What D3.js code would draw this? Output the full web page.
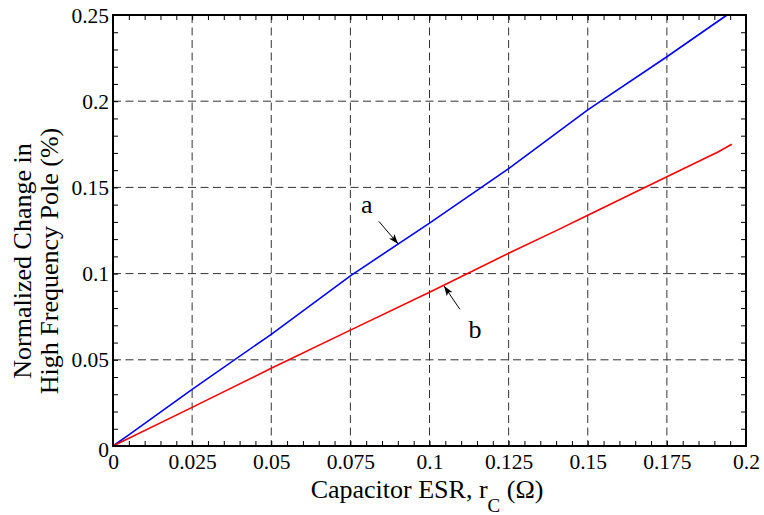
<!DOCTYPE html>
<html>
<head>
<meta charset="utf-8">
<script src="https://cdn.jsdelivr.net/npm/d3@7"></script>
<style>
  html, body { margin: 0; padding: 0; background: #fff; }
  svg { display: block; }
  text { font-family: "Liberation Serif", "Times New Roman", serif; fill: #000; }
</style>
</head>
<body>
<svg id="chart" width="764" height="515"></svg>
<script>
// ---- data ----
const xTicks = [0, 0.025, 0.05, 0.075, 0.1, 0.125, 0.15, 0.175, 0.2];
const xTickLabels = ["0", "0.025", "0.05", "0.075", "0.1", "0.125", "0.15", "0.175", "0.2"];
const yTicks = [0, 0.05, 0.1, 0.15, 0.2, 0.25];
const yTickLabels = ["0", "0.05", "0.1", "0.15", "0.2", "0.25"];

const seriesA_x = [0, 0.005, 0.025, 0.05, 0.075, 0.1, 0.125, 0.15, 0.175, 0.194];
const seriesA_y = [0, 0.0065, 0.0329, 0.0648, 0.0987, 0.1293, 0.1609, 0.1950, 0.2258, 0.25];
const seriesB_x = [0, 0.025, 0.05, 0.075, 0.1, 0.125, 0.1407, 0.15, 0.175, 0.1913, 0.1955];
const seriesB_y = [0, 0.0224, 0.0451, 0.0672, 0.0892, 0.1118, 0.1255, 0.1338, 0.1562, 0.1707, 0.175];

const labelNames = ["a", "b"];
const labelPos = [[0.0802, 0.1351], [0.1144, 0.0626]];
const arrowTail = [[0.0840, 0.1303], [0.1096, 0.0793]];
const arrowTip  = [[0.0901, 0.1172], [0.1046, 0.0928]];

const xTitle = "Capacitor ESR, r";
const xTitleSub = "C";
const xTitleEnd = " (\u03A9)";
const yTitle1 = "Normalized Change in";
const yTitle2 = "High Frequency Pole (%)";

// ---- layout ----
const svg = d3.select("#chart");
const L = 113, R = 746, T = 15, B = 446;
const x = d3.scaleLinear().domain([0, 0.2]).range([L, R]);
const y = d3.scaleLinear().domain([0, 0.25]).range([B, T]);

// grid
const grid = svg.append("g");
grid.selectAll("line.vg").data(xTicks.slice(1, -1)).enter().append("line")
  .attr("x1", d => x(d)).attr("x2", d => x(d)).attr("y1", T).attr("y2", B)
  .attr("stroke", "#333").attr("stroke-width", 1).attr("stroke-dasharray", "8,4.5");
grid.selectAll("line.hg").data(yTicks.slice(1, -1)).enter().append("line")
  .attr("y1", d => y(d)).attr("y2", d => y(d)).attr("x1", L).attr("x2", R)
  .attr("stroke", "#333").attr("stroke-width", 1).attr("stroke-dasharray", "8,4.5");

// axes with inward ticks (minor)
const xMinor = d3.range(0, 41).map(i => i * 0.005);
const yMinor = d3.range(0, 26).map(i => i * 0.01);
function tickAxis(axisFn, scale, vals, size, transform) {
  const g = svg.append("g").attr("transform", transform)
    .call(axisFn(scale).tickValues(vals).tickSize(size).tickFormat(""));
  g.select(".domain").remove();
  g.selectAll("line").attr("stroke", "#000").attr("stroke-width", 1);
  return g;
}
tickAxis(d3.axisTop, x, xMinor, 5, `translate(0,${B})`);
tickAxis(d3.axisBottom, x, xMinor, 5, `translate(0,${T})`);
tickAxis(d3.axisRight, y, yMinor, 5, `translate(${L},0)`);
tickAxis(d3.axisLeft, y, yMinor, 5, `translate(${R},0)`);

// tick labels
const xAx = svg.append("g").attr("transform", `translate(0,${B})`)
  .call(d3.axisBottom(x).tickValues(xTicks).tickSize(0).tickPadding(0)
    .tickFormat((d, i) => xTickLabels[i]));
xAx.select(".domain").remove();
xAx.selectAll("text").attr("font-size", 21.5).attr("dy", null).attr("y", 23)
  .style("font-family", '"Liberation Serif", serif').attr("fill", "#000");

const yAx = svg.append("g").attr("transform", `translate(${L},0)`)
  .call(d3.axisLeft(y).tickValues(yTicks).tickSize(0).tickPadding(0)
    .tickFormat((d, i) => yTickLabels[i]));
yAx.select(".domain").remove();
yAx.selectAll("text").attr("font-size", 21.5).attr("x", -4).attr("dy", "0.33em")
  .style("font-family", '"Liberation Serif", serif').attr("fill", "#000");
yAx.selectAll(".tick").filter(d => d === 0).select("text").attr("dy", "0.5em");

// curves
const lineGen = d3.line().x(d => x(d[0])).y(d => y(d[1]));
svg.append("path").datum(seriesA_x.map((v, i) => [v, seriesA_y[i]]))
  .attr("d", lineGen).attr("fill", "none").attr("stroke", "#0000ff").attr("stroke-width", 1.6);
svg.append("path").datum(seriesB_x.map((v, i) => [v, seriesB_y[i]]))
  .attr("d", lineGen).attr("fill", "none").attr("stroke", "#ff0000").attr("stroke-width", 1.6);

// frame
svg.append("rect").attr("x", L).attr("y", T).attr("width", R - L).attr("height", B - T)
  .attr("fill", "none").attr("stroke", "#000").attr("stroke-width", 2);

// arrows
svg.append("defs").append("marker").attr("id", "ah")
  .attr("viewBox", "0 0 10 10").attr("refX", 10).attr("refY", 5)
  .attr("markerWidth", 10).attr("markerHeight", 10).attr("markerUnits", "userSpaceOnUse")
  .attr("orient", "auto")
  .append("path").attr("d", "M0,1.5 L10,5 L0,8.5 L2.5,5 Z").attr("fill", "#000");
labelNames.forEach((n, i) => {
  svg.append("line")
    .attr("x1", x(arrowTail[i][0])).attr("y1", y(arrowTail[i][1]))
    .attr("x2", x(arrowTip[i][0])).attr("y2", y(arrowTip[i][1]))
    .attr("stroke", "#000").attr("stroke-width", 1).attr("marker-end", "url(#ah)");
  svg.append("text").attr("x", x(labelPos[i][0])).attr("y", y(labelPos[i][1]))
    .attr("text-anchor", "middle").attr("font-size", 26).text(n);
});

// axis titles
const xt = svg.append("text").attr("x", 427).attr("y", 498)
  .attr("text-anchor", "middle").attr("font-size", 26);
xt.append("tspan").text(xTitle);
xt.append("tspan").attr("font-size", 19).attr("dy", 14).text(xTitleSub);
xt.append("tspan").attr("dy", -14).text(xTitleEnd);

const cy = 261;
svg.append("text").attr("transform", `translate(31,${cy}) rotate(-90)`)
  .attr("text-anchor", "middle").attr("font-size", 26).text(yTitle1);
svg.append("text").attr("transform", `translate(58,${cy}) rotate(-90)`)
  .attr("text-anchor", "middle").attr("font-size", 26).text(yTitle2);
</script>
</body>
</html>
